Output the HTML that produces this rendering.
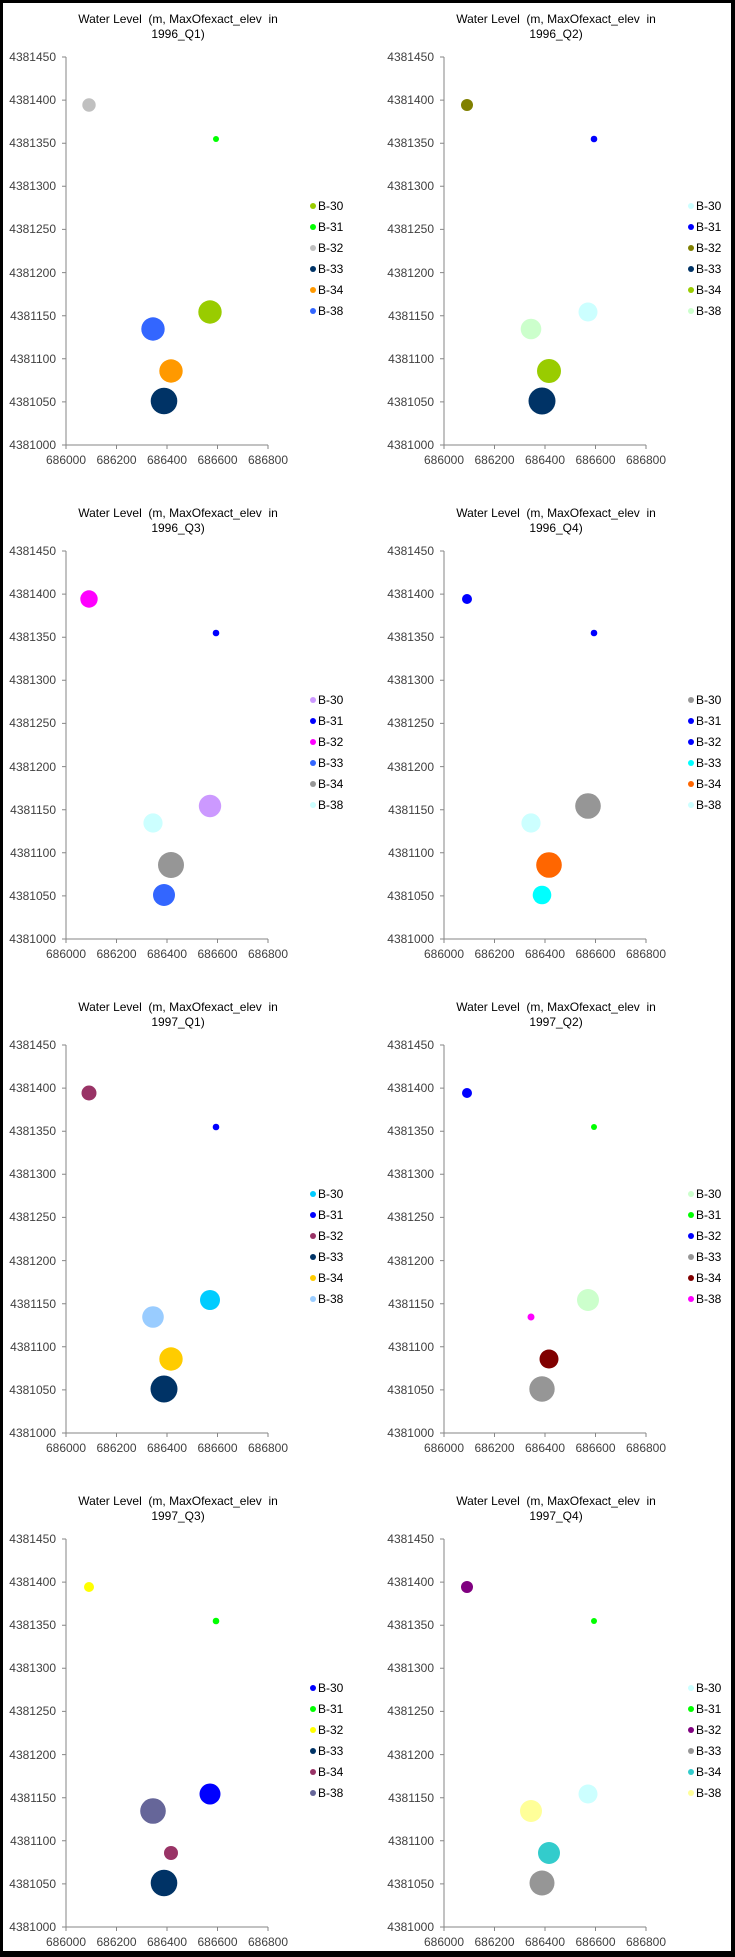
<!DOCTYPE html>
<html><head><meta charset="utf-8"><style>
html,body{margin:0;padding:0;background:#000;}
svg{display:block;}
text{font-family:"Liberation Sans",sans-serif;font-size:12px;fill:#000;}
.t{fill:#404040;font-size:12px;}
</style></head><body>
<svg width="735" height="1957" viewBox="0 0 735 1957" xmlns="http://www.w3.org/2000/svg">
<defs>
<g id="ax">
<line x1="66" y1="57" x2="66" y2="445" stroke="#868686" stroke-width="1"/>
<line x1="66" y1="445" x2="268" y2="445" stroke="#868686" stroke-width="1"/>
<path d="M62 57H66M62 100.1H66M62 143.2H66M62 186.3H66M62 229.4H66M62 272.6H66M62 315.7H66M62 358.8H66M62 401.9H66M62 445H66M66 445V449M116.5 445V449M167 445V449M217.5 445V449M268 445V449" stroke="#868686" stroke-width="1"/>
<g class="t" text-anchor="end">
<text class="t" x="56" y="61">4381450</text>
<text class="t" x="56" y="104">4381400</text>
<text class="t" x="56" y="147">4381350</text>
<text class="t" x="56" y="190">4381300</text>
<text class="t" x="56" y="233">4381250</text>
<text class="t" x="56" y="277">4381200</text>
<text class="t" x="56" y="320">4381150</text>
<text class="t" x="56" y="363">4381100</text>
<text class="t" x="56" y="406">4381050</text>
<text class="t" x="56" y="449">4381000</text>
</g>
<g text-anchor="middle">
<text class="t" x="66" y="464">686000</text>
<text class="t" x="116.5" y="464">686200</text>
<text class="t" x="167" y="464">686400</text>
<text class="t" x="217.5" y="464">686600</text>
<text class="t" x="268" y="464">686800</text>
</g>
<text x="318" y="210">B-30</text>
<text x="318" y="231">B-31</text>
<text x="318" y="252">B-32</text>
<text x="318" y="273">B-33</text>
<text x="318" y="294">B-34</text>
<text x="318" y="315">B-38</text>
<text x="178" y="23" text-anchor="middle" xml:space="preserve">Water Level  (m, MaxOfexact_elev  in</text>
</g>
</defs>
<rect x="3" y="3" width="728" height="1948" fill="#fff"/>

<!-- 1996_Q1 -->
<g transform="translate(0,0)">
<use href="#ax"/>
<text x="178" y="38" text-anchor="middle">1996_Q1)</text>
<circle cx="89" cy="105" r="6.7" fill="#c0c0c0"/>
<circle cx="216" cy="139" r="3" fill="#00ff00"/>
<circle cx="210" cy="312" r="11.7" fill="#99cc00"/>
<circle cx="153" cy="329" r="11.7" fill="#3366ff"/>
<circle cx="171" cy="371" r="11.7" fill="#ff9900"/>
<circle cx="164" cy="401" r="13.3" fill="#003366"/>
<circle cx="313" cy="206" r="3" fill="#99cc00"/><circle cx="313" cy="227" r="3" fill="#00ff00"/><circle cx="313" cy="248" r="3" fill="#c0c0c0"/><circle cx="313" cy="269" r="3" fill="#003366"/><circle cx="313" cy="290" r="3" fill="#ff9900"/><circle cx="313" cy="311" r="3" fill="#3366ff"/>
</g>

<!-- 1996_Q2 -->
<g transform="translate(378,0)">
<use href="#ax"/>
<text x="178" y="38" text-anchor="middle">1996_Q2)</text>
<circle cx="89" cy="105" r="6" fill="#808000"/>
<circle cx="216" cy="139" r="3.3" fill="#0000ff"/>
<circle cx="210" cy="312" r="9.5" fill="#ccffff"/>
<circle cx="153" cy="329" r="10.3" fill="#ccffcc"/>
<circle cx="171" cy="371" r="12" fill="#99cc00"/>
<circle cx="164" cy="401" r="13.5" fill="#003366"/>
<circle cx="313" cy="206" r="3" fill="#ccffff"/><circle cx="313" cy="227" r="3" fill="#0000ff"/><circle cx="313" cy="248" r="3" fill="#808000"/><circle cx="313" cy="269" r="3" fill="#003366"/><circle cx="313" cy="290" r="3" fill="#99cc00"/><circle cx="313" cy="311" r="3" fill="#ccffcc"/>
</g>

<!-- 1996_Q3 -->
<g transform="translate(0,494)">
<use href="#ax"/>
<text x="178" y="38" text-anchor="middle">1996_Q3)</text>
<circle cx="89" cy="105" r="8.7" fill="#ff00ff"/>
<circle cx="216" cy="139" r="3.3" fill="#0000ff"/>
<circle cx="210" cy="312" r="11.2" fill="#cc99ff"/>
<circle cx="153" cy="329" r="9.6" fill="#ccffff"/>
<circle cx="171" cy="371" r="13" fill="#969696"/>
<circle cx="164" cy="401" r="11" fill="#3366ff"/>
<circle cx="313" cy="206" r="3" fill="#cc99ff"/><circle cx="313" cy="227" r="3" fill="#0000ff"/><circle cx="313" cy="248" r="3" fill="#ff00ff"/><circle cx="313" cy="269" r="3" fill="#3366ff"/><circle cx="313" cy="290" r="3" fill="#969696"/><circle cx="313" cy="311" r="3" fill="#ccffff"/>
</g>

<!-- 1996_Q4 -->
<g transform="translate(378,494)">
<use href="#ax"/>
<text x="178" y="38" text-anchor="middle">1996_Q4)</text>
<circle cx="89" cy="105" r="5" fill="#0000ff"/>
<circle cx="216" cy="139" r="3.3" fill="#0000ff"/>
<circle cx="210" cy="312" r="12.8" fill="#969696"/>
<circle cx="153" cy="329" r="9.6" fill="#ccffff"/>
<circle cx="171" cy="371" r="12.8" fill="#ff6600"/>
<circle cx="164" cy="401" r="9.3" fill="#00ffff"/>
<circle cx="313" cy="206" r="3" fill="#969696"/><circle cx="313" cy="227" r="3" fill="#0000ff"/><circle cx="313" cy="248" r="3" fill="#0000ff"/><circle cx="313" cy="269" r="3" fill="#00ffff"/><circle cx="313" cy="290" r="3" fill="#ff6600"/><circle cx="313" cy="311" r="3" fill="#ccffff"/>
</g>

<!-- 1997_Q1 -->
<g transform="translate(0,988)">
<use href="#ax"/>
<text x="178" y="38" text-anchor="middle">1997_Q1)</text>
<circle cx="89" cy="105" r="7.5" fill="#993366"/>
<circle cx="216" cy="139" r="3.3" fill="#0000ff"/>
<circle cx="210" cy="312" r="10" fill="#00ccff"/>
<circle cx="153" cy="329" r="10.8" fill="#99ccff"/>
<circle cx="171" cy="371" r="11.7" fill="#ffcc00"/>
<circle cx="164" cy="401" r="13.5" fill="#003366"/>
<circle cx="313" cy="206" r="3" fill="#00ccff"/><circle cx="313" cy="227" r="3" fill="#0000ff"/><circle cx="313" cy="248" r="3" fill="#993366"/><circle cx="313" cy="269" r="3" fill="#003366"/><circle cx="313" cy="290" r="3" fill="#ffcc00"/><circle cx="313" cy="311" r="3" fill="#99ccff"/>
</g>

<!-- 1997_Q2 -->
<g transform="translate(378,988)">
<use href="#ax"/>
<text x="178" y="38" text-anchor="middle">1997_Q2)</text>
<circle cx="89" cy="105" r="5" fill="#0000ff"/>
<circle cx="216" cy="139" r="3" fill="#00ff00"/>
<circle cx="210" cy="312" r="11" fill="#ccffcc"/>
<circle cx="153" cy="329" r="3.5" fill="#ff00ff"/>
<circle cx="171" cy="371" r="9.5" fill="#800000"/>
<circle cx="164" cy="401" r="12.7" fill="#969696"/>
<circle cx="313" cy="206" r="3" fill="#ccffcc"/><circle cx="313" cy="227" r="3" fill="#00ff00"/><circle cx="313" cy="248" r="3" fill="#0000ff"/><circle cx="313" cy="269" r="3" fill="#969696"/><circle cx="313" cy="290" r="3" fill="#800000"/><circle cx="313" cy="311" r="3" fill="#ff00ff"/>
</g>

<!-- 1997_Q3 -->
<g transform="translate(0,1482)">
<use href="#ax"/>
<text x="178" y="38" text-anchor="middle">1997_Q3)</text>
<circle cx="89" cy="105" r="5" fill="#ffff00"/>
<circle cx="216" cy="139" r="3.3" fill="#00ff00"/>
<circle cx="210" cy="312" r="10.5" fill="#0000ff"/>
<circle cx="153" cy="329" r="12.8" fill="#666699"/>
<circle cx="171" cy="371" r="7" fill="#993366"/>
<circle cx="164" cy="401" r="13.3" fill="#003366"/>
<circle cx="313" cy="206" r="3" fill="#0000ff"/><circle cx="313" cy="227" r="3" fill="#00ff00"/><circle cx="313" cy="248" r="3" fill="#ffff00"/><circle cx="313" cy="269" r="3" fill="#003366"/><circle cx="313" cy="290" r="3" fill="#993366"/><circle cx="313" cy="311" r="3" fill="#666699"/>
</g>

<!-- 1997_Q4 -->
<g transform="translate(378,1482)">
<use href="#ax"/>
<text x="178" y="38" text-anchor="middle">1997_Q4)</text>
<circle cx="89" cy="105" r="6" fill="#800080"/>
<circle cx="216" cy="139" r="3" fill="#00ff00"/>
<circle cx="210" cy="312" r="9.5" fill="#ccffff"/>
<circle cx="153" cy="329" r="11" fill="#ffff99"/>
<circle cx="171" cy="371" r="11" fill="#33cccc"/>
<circle cx="164" cy="401" r="12.5" fill="#969696"/>
<circle cx="313" cy="206" r="3" fill="#ccffff"/><circle cx="313" cy="227" r="3" fill="#00ff00"/><circle cx="313" cy="248" r="3" fill="#800080"/><circle cx="313" cy="269" r="3" fill="#969696"/><circle cx="313" cy="290" r="3" fill="#33cccc"/><circle cx="313" cy="311" r="3" fill="#ffff99"/>
</g>
</svg>
</body></html>
